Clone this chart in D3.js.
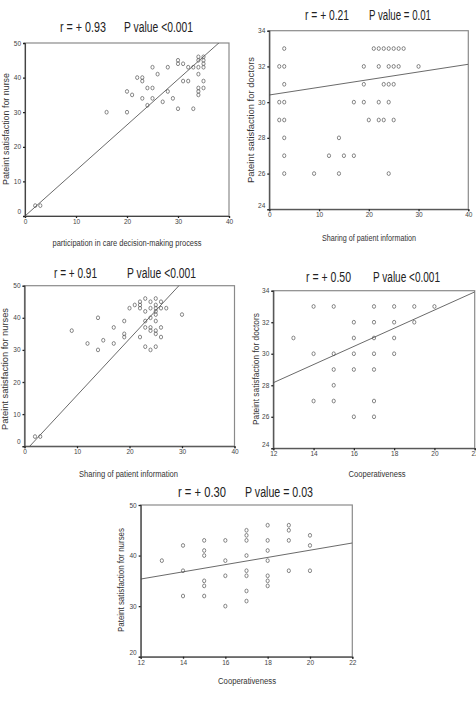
<!DOCTYPE html>
<html>
<head>
<meta charset="utf-8">
<script src="https://cdn.jsdelivr.net/npm/d3@7"></script>
<style>
  html, body { margin: 0; padding: 0; background: #fff; }
  svg { display: block; font-family: "Liberation Sans", Arial, sans-serif; }
</style>
</head>
<body>
<svg id="chart" width="476" height="701"></svg>
<script>
// data
const p1Points = [[2,3],[3,3],[16,30],[20,30],[20,36],[21,35],[22,40],[23,40],[23,39],[23,34],[24,37],[24,32],[25,37],[25,34],[25,43],[26,41],[27,33],[28,36],[28,43],[29,34],[30,31],[30,45],[30,44],[31,44],[31,39],[32,39],[32,43],[33,43],[33,31],[34,46],[34,45],[34,43],[34,41],[34,37],[34,36],[34,35],[35,46],[35,45],[35,44],[35,43],[35,39],[35,37]];
const p2Points = [[2,32],[2,30],[2,29],[3,33],[3,32],[3,31],[3,30],[3,29],[3,28],[3,27],[3,26],[9,26],[12,27],[14,28],[14,26],[15,27],[17,27],[17,30],[19,32],[19,31],[19,30],[20,29],[21,33],[22,33],[23,33],[24,33],[25,33],[26,33],[27,33],[22,32],[24,32],[25,32],[26,32],[30,32],[23,31],[24,31],[25,31],[22,30],[24,30],[22,29],[23,29],[25,29],[24,26]];
const p3Points = [[2,3],[3,3],[9,36],[12,32],[14,30],[14,40],[15,33],[17,37],[17,32],[19,39],[19,35],[19,34],[20,43],[21,44],[22,45],[22,44],[22,43],[22,34],[23,46],[23,42],[23,39],[23,37],[23,31],[24,45],[24,43],[24,40],[24,37],[24,36],[24,30],[25,46],[25,44],[25,43],[25,42],[25,41],[25,39],[25,36],[25,35],[25,31],[26,45],[26,43],[26,37],[26,34],[27,43],[30,41]];
const p4Points = [[13,31],[14,33],[14,30],[14,27],[15,33],[15,30],[15,29],[15,28],[15,27],[16,32],[16,31],[16,30],[16,29],[16,26],[17,33],[17,32],[17,31],[17,30],[17,29],[17,27],[17,26],[18,33],[18,32],[18,31],[18,30],[19,33],[19,32],[20,33]];
const p5Points = [[13,39],[14,42],[14,37],[14,32],[15,43],[15,41],[15,40],[15,35],[15,34],[15,32],[16,43],[16,39],[16,36],[16,30],[17,45],[17,44],[17,43],[17,40],[17,37],[17,36],[17,33],[17,31],[18,46],[18,43],[18,41],[18,39],[18,36],[18,35],[18,34],[19,46],[19,45],[19,43],[19,37],[20,44],[20,42],[20,37]];

// regression fits [intercept, slope]
const fits = [[0, 1.316], [30.4, 0.043], [-1.76, 1.76], [21.25, 0.576], [26.8, 0.713]];

const rLabels = ['r = + 0.93', 'r = + 0.21', 'r = + 0.91', 'r = + 0.50', 'r = + 0.30'];
const pLabels = ['P value <0.001', 'P value = 0.01', 'P value <0.001', 'P value <0.001', 'P value = 0.03'];
const xTitles = ['participation in care decision-making process', 'Sharing of patient information',
  'Sharing of patient information', 'Cooperativeness', 'Cooperativeness'];
const yTitles = ['Pateint satisfaction for nurse', 'Pateint satisfaction for doctors',
  'Pateint satisfaction for nurses', 'Pateint satisfaction for doctors', 'Pateint satisfaction for nurses'];

const xDomains = [[0, 40], [0, 40], [0, 40], [12, 22], [12, 22]];
const yDomains = [[0, 50], [24, 34], [0, 50], [24, 34], [20, 50]];
const ticks0to40 = [0, 10, 20, 30, 40];
const ticks12to22 = [12, 14, 16, 18, 20, 22];
const ticks0to50 = [0, 10, 20, 30, 40, 50];
const ticks24to34 = [24, 26, 28, 30, 32, 34];
const ticks20to50 = [20, 30, 40, 50];
const xTickSets = [ticks0to40, ticks0to40, ticks0to40, ticks12to22, ticks12to22];
const yTickSets = [ticks0to50, ticks24to34, ticks0to50, ticks24to34, ticks20to50];
const allPoints = [p1Points, p2Points, p3Points, p4Points, p5Points];

// layout of each panel (frame, title and label placement)
const layout = [
  { l: 25, r: 229, t: 43, b: 216, ty: 27, rx: [60, 106], px: [124, 193], xl: [127, 243, 149], yl: [6, 129, 112] },
  { l: 269.3, r: 468.3, t: 30.7, b: 209.3, ty: 15, rx: [305, 349], px: [369, 431], xl: [369, 238, 94], yl: [251, 120, 126] },
  { l: 24.5, r: 234.5, t: 285.7, b: 446.2, ty: 273, rx: [54, 97], px: [127, 196], xl: [128.5, 474, 99], yl: [5, 369, 122] },
  { l: 273.3, r: 474.7, t: 290.7, b: 448.3, ty: 277, rx: [306, 351], px: [373, 440], xl: [377, 474, 57], yl: [256, 369, 112] },
  { l: 140.7, r: 352.3, t: 505, b: 656.7, ty: 492, rx: [178, 226], px: [245, 313], xl: [247, 681, 58], yl: [121, 580, 104] }
];

const svg = d3.select('#chart');

function drawPanel(i) {
  const L = layout[i];
  const x = d3.scaleLinear().domain(xDomains[i]).range([L.l, L.r]);
  const y = d3.scaleLinear().domain(yDomains[i]).range([L.b, L.t]);
  const g = svg.append('g').attr('class', 'panel-' + i);

  g.append('clipPath')
    .attr('id', 'clip-' + i)
    .append('rect')
    .attr('x', L.l).attr('y', L.t)
    .attr('width', L.r - L.l).attr('height', L.b - L.t);

  // frame: light top/right, darker axes
  g.append('rect')
    .attr('x', L.l).attr('y', L.t)
    .attr('width', L.r - L.l).attr('height', L.b - L.t)
    .attr('fill', 'none')
    .attr('stroke', '#8a8a8a')
    .attr('stroke-width', 1.2);

  const xAxis = d3.axisBottom(x).tickValues(xTickSets[i]).tickSize(2).tickPadding(1.5);
  const yAxis = d3.axisLeft(y).tickValues(yTickSets[i]).tickSize(2).tickPadding(2);

  const gx = g.append('g').attr('transform', 'translate(0,' + L.b + ')').call(xAxis);
  const gy = g.append('g').attr('transform', 'translate(' + L.l + ',0)').call(yAxis);
  [gx, gy].forEach(function (ax) {
    ax.select('.domain').attr('stroke', '#444').attr('stroke-width', 1.1);
    ax.selectAll('.tick line').attr('stroke', '#222').attr('stroke-width', 1.3);
    ax.selectAll('.tick text')
      .attr('font-size', 6.5)
      .attr('fill', '#444')
      .attr('font-family', '"Liberation Sans", Arial, sans-serif');
  });
  // SPSS lifts the lowest y label a little
  gy.selectAll('.tick text')
    .filter(function (d) { return d === yDomains[i][0]; })
    .attr('dy', '-0.35em');

  // regression line
  const fit = fits[i];
  const xd = xDomains[i];
  g.append('line')
    .attr('clip-path', 'url(#clip-' + i + ')')
    .attr('x1', x(xd[0])).attr('y1', y(fit[0] + fit[1] * xd[0]))
    .attr('x2', x(xd[1])).attr('y2', y(fit[0] + fit[1] * xd[1]))
    .attr('stroke', '#444')
    .attr('stroke-width', 0.8);

  // points
  g.selectAll('ellipse.pt')
    .data(allPoints[i])
    .enter()
    .append('ellipse')
    .attr('class', 'pt')
    .attr('cx', function (d) { return x(d[0]); })
    .attr('cy', function (d) { return y(d[1]); })
    .attr('rx', 1.6)
    .attr('ry', 1.9)
    .attr('fill', 'none')
    .attr('stroke', '#555')
    .attr('stroke-width', 0.7);

  // title
  g.append('text')
    .attr('x', L.rx[0]).attr('y', L.ty)
    .attr('dy', '0.36em')
    .attr('font-size', 14)
    .attr('fill', '#222')
    .attr('textLength', L.rx[1] - L.rx[0])
    .attr('lengthAdjust', 'spacingAndGlyphs')
    .text(rLabels[i]);
  g.append('text')
    .attr('x', L.px[0]).attr('y', L.ty)
    .attr('dy', '0.36em')
    .attr('font-size', 14)
    .attr('fill', '#222')
    .attr('textLength', L.px[1] - L.px[0])
    .attr('lengthAdjust', 'spacingAndGlyphs')
    .text(pLabels[i]);

  // axis titles
  g.append('text')
    .attr('x', L.xl[0] - L.xl[2] / 2).attr('y', L.xl[1])
    .attr('dy', '0.35em')
    .attr('font-size', 8.5)
    .attr('fill', '#333')
    .attr('textLength', L.xl[2])
    .attr('lengthAdjust', 'spacingAndGlyphs')
    .text(xTitles[i]);
  g.append('text')
    .attr('transform', 'translate(' + L.yl[0] + ',' + L.yl[1] + ') rotate(-90)')
    .attr('x', -L.yl[2] / 2)
    .attr('dy', '0.35em')
    .attr('font-size', 8.5)
    .attr('fill', '#333')
    .attr('textLength', L.yl[2])
    .attr('lengthAdjust', 'spacingAndGlyphs')
    .text(yTitles[i]);
}

d3.range(5).forEach(drawPanel);
</script>
</body>
</html>
